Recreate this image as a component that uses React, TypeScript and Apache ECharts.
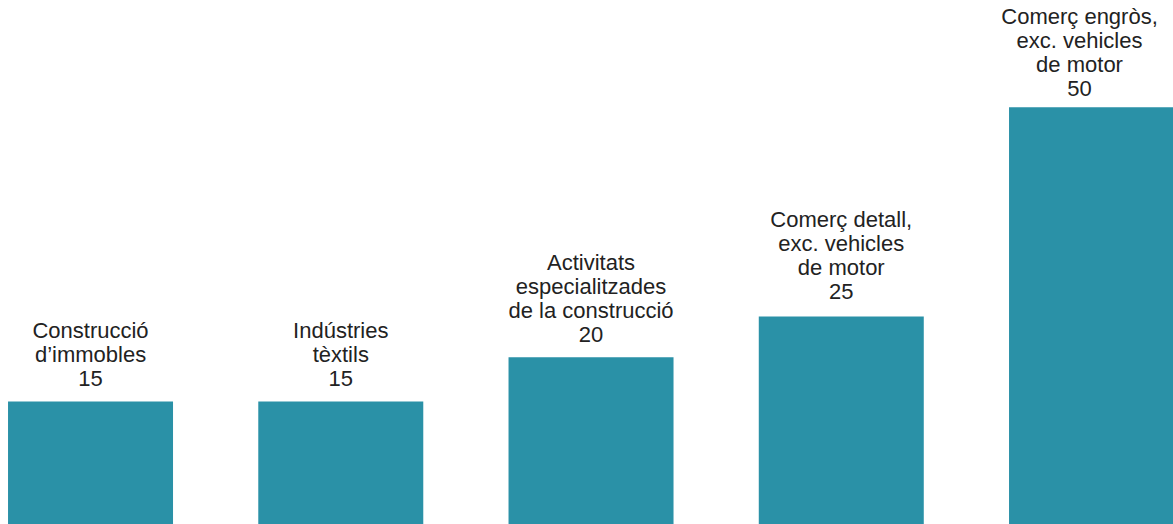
import React, { useEffect, useRef } from "react";
import * as echarts from "echarts";

const categories = [
  "Construcció\nd’immobles",
  "Indústries\ntèxtils",
  "Activitats\nespecialitzades\nde la construcció",
  "Comerç detall,\nexc. vehicles\nde motor",
  "Comerç engròs,\nexc. vehicles\nde motor",
];
const values = [14.7, 14.7, 20, 24.9, 50];

export default function App() {
  const ref = useRef<HTMLDivElement>(null);
  useEffect(() => {
    if (!ref.current) return;
    const chart = echarts.init(ref.current, null, { renderer: "svg" });
    const seriesData = values.map((v, i) => {
      if (i === 3) return { value: v, label: { distance: 13 } };
      if (i === 4) return { value: v, label: { distance: 7, offset: [-12, 0] } };
      return v;
    });
    chart.setOption({
      animation: false,
      grid: {
        left: -34.6,
        right: -43.65,
        top: 24,
        bottom: 0,
        outerBoundsMode: "none",
      },
      xAxis: {
        type: "category",
        data: categories,
        show: false,
      },
      yAxis: {
        type: "value",
        min: 0,
        max: 60,
        show: false,
        splitLine: { show: false },
      },
      series: [
        {
          type: "bar",
          data: seriesData,
          barWidth: 165,
          itemStyle: { color: "#2a91a7" },
          label: {
            show: true,
            position: "top",
            distance: 11,
            color: "#222222",
            fontSize: 22,
            lineHeight: 24,
            fontFamily: "'Helvetica Neue', Helvetica, Arial, 'Liberation Sans', sans-serif",
            align: "center",
            formatter: (p: any) => `${categories[p.dataIndex]}\n${Math.round(p.value)}`,
          },
        },
      ],
    });
    return () => chart.dispose();
  }, []);
  return (
    <div
      ref={ref}
      style={{ position: "absolute", left: 0, top: 0, width: 1173, height: 524 }}
    />
  );
}
